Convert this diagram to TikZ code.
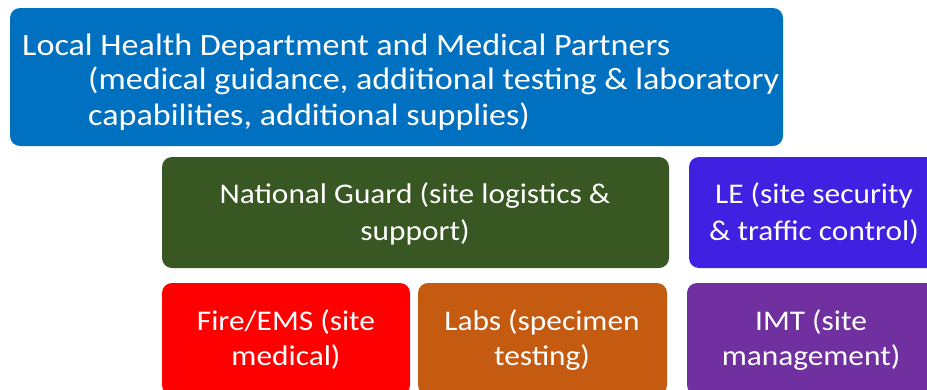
\documentclass[tikz,border=0pt]{standalone}
\usepackage{fontspec}
\setmainfont{Carlito}
\definecolor{cblue}{HTML}{0070C0}
\definecolor{cgreen}{HTML}{385723}
\definecolor{cle}{HTML}{4021E2}
\definecolor{cred}{HTML}{FF0000}
\definecolor{corange}{HTML}{C55A11}
\definecolor{cpurple}{HTML}{7030A0}
\begin{document}
\begin{tikzpicture}[x=1pt,y=-1pt,
  boxs/.style={rounded corners=10pt},
  txt/.style={text=white,font=\fontsize{28.5}{34}\selectfont,inner sep=0pt,anchor=base,xscale=1.1,transform shape},
  btxt/.style={txt,font=\fontsize{31}{36}\selectfont,anchor=base west}]
\useasboundingbox (0,0) rectangle (927,389);
\clip (0,0) rectangle (927,389);
\fill[boxs,cblue] (10,8) rectangle (783,146);
\fill[boxs,cgreen] (162,157) rectangle (669,268);
\fill[boxs,cle] (689,157) rectangle (940,268);
\fill[boxs,cred] (162,283) rectangle (410,395);
\fill[boxs,corange] (418,283) rectangle (667,395);
\fill[boxs,cpurple] (687,283) rectangle (936,395);
\node[btxt] (l1) at (22,55) {Local Health Department and Medical Partners};
\node[btxt] (l2) at (88,89) {(medical guidance, additional testing \& laboratory};
\node[btxt] (l3) at (88,125) {capabilities, additional supplies)};
\node[txt] (g1) at (415,203) {National Guard (site logistics \&};
\node[txt] (g2) at (415,240) {support)};
\node[txt] (e1) at (814,203) {LE (site security};
\node[txt] (e2) at (814,240) {\& traffic control)};
\node[txt] (r1) at (286,330) {Fire/EMS (site};
\node[txt] (r2) at (286,365) {medical)};
\node[txt] (o1) at (542,330) {Labs (specimen};
\node[txt] (o2) at (542,365) {testing)};
\node[txt] (p1) at (811,330) {IMT (site};
\node[txt] (p2) at (811,365) {management)};
\end{tikzpicture}
\end{document}
